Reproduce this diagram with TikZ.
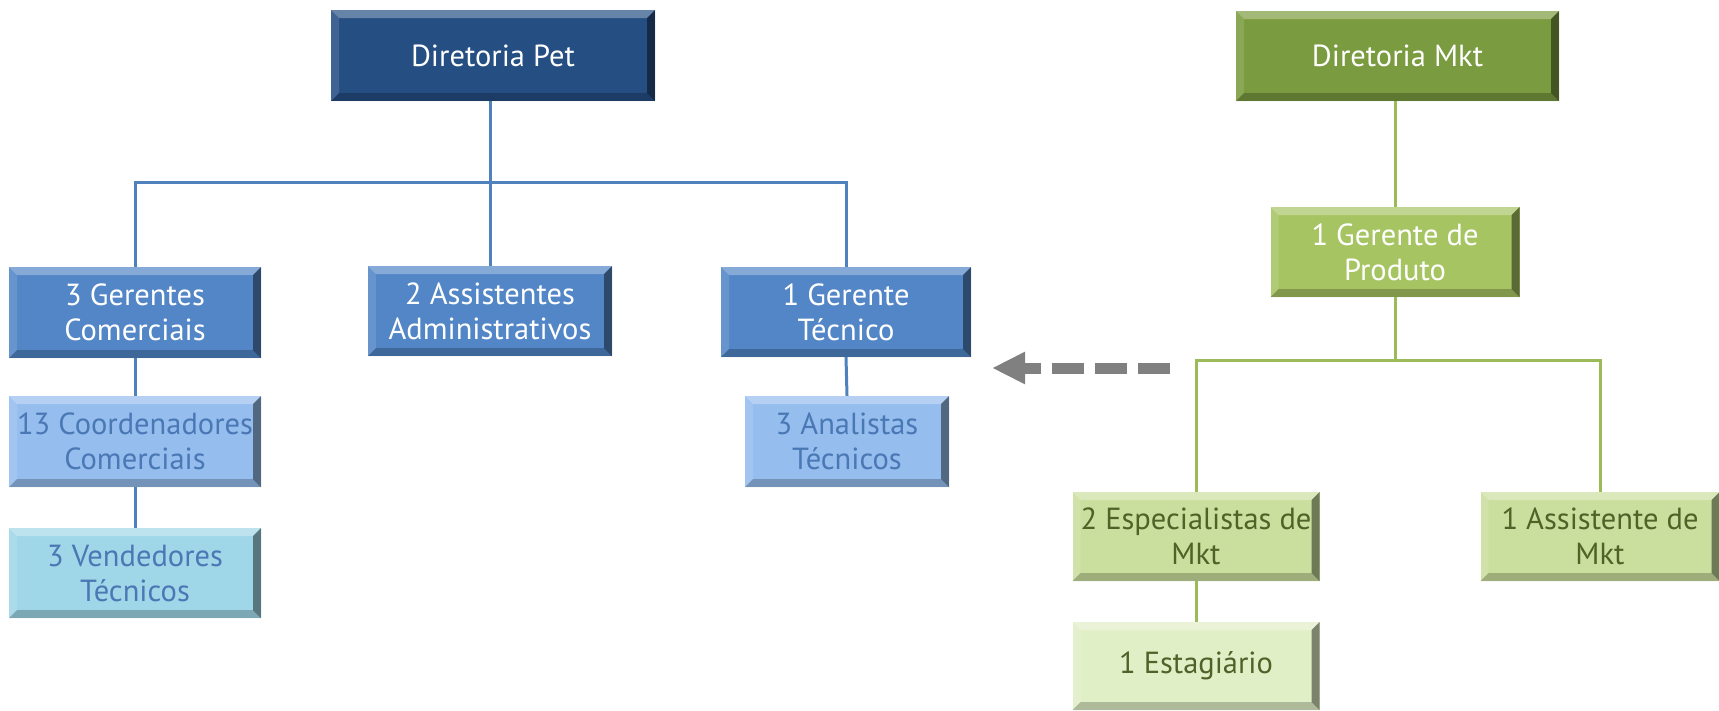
\documentclass[tikz,border=0pt]{standalone}
\usepackage{fontspec}
\setmainfont{PT Sans}
\usetikzlibrary{arrows.meta}
\definecolor{petdark}{HTML}{254E83}
\definecolor{petmid}{HTML}{5286C6}
\definecolor{petlight}{HTML}{95BDEE}
\definecolor{petcyan}{HTML}{A0D7E8}
\definecolor{pettext}{HTML}{4A78B5}
\definecolor{petline}{HTML}{4F81BD}
\definecolor{mktdark}{HTML}{7A9B3F}
\definecolor{mktmid}{HTML}{A6C462}
\definecolor{mktlight}{HTML}{CADF9E}
\definecolor{mktpale}{HTML}{E1EFC7}
\definecolor{mkttext}{HTML}{4F6228}
\definecolor{mktline}{HTML}{9BBB59}
\definecolor{arrowgray}{HTML}{808080}
\tikzset{
  bevel/.style={path picture={
    \fill[white,opacity=.30] (path picture bounding box.north west) -- (path picture bounding box.north east)
      -- ([xshift=-8pt,yshift=-8pt]path picture bounding box.north east) -- ([xshift=8pt,yshift=-8pt]path picture bounding box.north west) -- cycle;
    \fill[white,opacity=.12] (path picture bounding box.north west) -- (path picture bounding box.south west)
      -- ([xshift=8pt,yshift=8pt]path picture bounding box.south west) -- ([xshift=8pt,yshift=-8pt]path picture bounding box.north west) -- cycle;
    \fill[black,opacity=.45] (path picture bounding box.north east) -- (path picture bounding box.south east)
      -- ([xshift=-8pt,yshift=8pt]path picture bounding box.south east) -- ([xshift=-8pt,yshift=-8pt]path picture bounding box.north east) -- cycle;
    \fill[black,opacity=.22] (path picture bounding box.south west) -- (path picture bounding box.south east)
      -- ([xshift=-8pt,yshift=8pt]path picture bounding box.south east) -- ([xshift=8pt,yshift=8pt]path picture bounding box.south west) -- cycle;
  }},
  box/.style={rectangle, inner sep=0pt, align=center, bevel,
    font=\fontsize{30.5}{35}\selectfont},
  bline/.style={petline, line width=3pt},
  gline/.style={mktline, line width=3pt},
}
\begin{document}
\begin{tikzpicture}[x=1pt,y=-1pt]
\useasboundingbox (0,0) rectangle (1719,710);
% Pet
\node[box, fill=petdark, text=white, minimum width=324pt, minimum height=91pt] (pet) at (493,55.5) {Diretoria Pet};
\node[box, fill=petmid, text=white, minimum width=252pt, minimum height=91pt] (gc) at (135,312.5) {3 Gerentes\\Comerciais};
\node[box, fill=petmid, text=white, minimum width=244pt, minimum height=90pt] (aa) at (490,311) {2 Assistentes\\Administrativos};
\node[box, fill=petmid, text=white, minimum width=250pt, minimum height=90pt] (gt) at (846,312) {1 Gerente\\Técnico};
\node[box, fill=petlight, text=pettext, minimum width=252pt, minimum height=91pt] (cc) at (135,441.5) {13 Coordenadores\\Comerciais};
\node[box, fill=petlight, text=pettext, minimum width=204pt, minimum height=91pt] (at) at (847,441.5) {3 Analistas\\Técnicos};
\node[box, fill=petcyan, text=pettext, minimum width=252pt, minimum height=90pt] (vt) at (135,573) {3 Vendedores\\Técnicos};
% Mkt
\node[box, fill=mktdark, text=white, minimum width=323pt, minimum height=90pt] (mkt) at (1397.5,56) {Diretoria Mkt};
\node[box, fill=mktmid, text=white, minimum width=249pt, minimum height=90pt] (gp) at (1395,252) {1 Gerente de\\Produto};
\node[box, fill=mktlight, text=mkttext, minimum width=247pt, minimum height=89pt] (esp) at (1196,536.5) {2 Especialistas de\\Mkt};
\node[box, fill=mktlight, text=mkttext, minimum width=239pt, minimum height=89pt] (ast) at (1600,536.5) {1 Assistente de\\Mkt};
\node[box, fill=mktpale, text=mkttext, minimum width=247pt, minimum height=88pt] (est) at (1196,666) {1 Estagiário};
% Pet connectors
\draw[bline] (aa.north) -- (aa.north |- pet.south);
\draw[bline] (gc.north) -- ++(0,-84) -| (gt.north);
\draw[bline] (gc.south) -- (cc.north);
\draw[bline] (cc.south) -- (vt.north);
\draw[bline] (gt.south) -- (at.north);
% Mkt connectors
\draw[gline] (gp.north) -- (gp.north |- mkt.south);
\draw[gline] (gp.south) -- ++(0,63) coordinate (gbar);
\draw[gline] (esp.north) |- (gbar) -| (ast.north);
\draw[gline] (esp.south) -- (est.north);
% dashed arrow
\coordinate (arrtail) at (1170,368);
\coordinate (arrhead) at (992,368);
\draw[arrowgray, line width=11pt, dash pattern=on 32pt off 11pt, -{Triangle[length=33pt,width=30pt]}] (arrtail) -- (arrhead);
\end{tikzpicture}
\end{document}
